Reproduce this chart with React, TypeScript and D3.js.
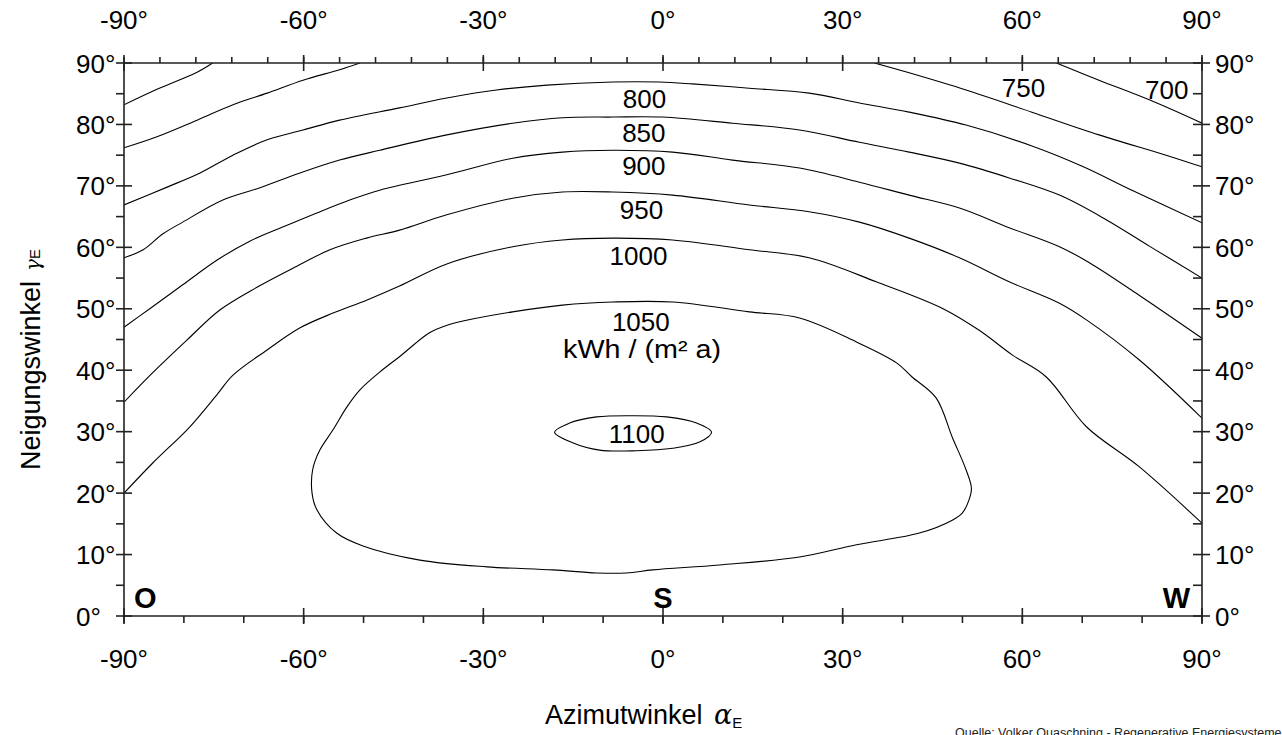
import React from "react";
import * as d3 from "d3";

// ---- data: contour lines of annual irradiation (kWh/(m² a)) as [azimuth°, tilt°] ----
const contour700a: [number, number][] = [[-90, 83.2], [-84.3, 85.8], [-77.8, 88.5], [-75.2, 90]];
const contour700b: [number, number][] = [[65.7, 90], [72.8, 87.2], [81.2, 84.0], [90, 80.2]];
const contour750a: [number, number][] = [[-90, 76.2], [-84.5, 78.0], [-77.8, 80.7], [-71.8, 83.2], [-66.1, 85.1], [-60.1, 87.2], [-54.0, 88.9], [-50.6, 90]];
const contour750b: [number, number][] = [[35.3, 90], [41.1, 88.4], [50.6, 85.6], [61.6, 82.0], [72.8, 78.3], [84.0, 75.0], [90, 73.1]];
const contour800: [number, number][] = [[-90, 66.9], [-82.8, 69.8], [-77.3, 72.1], [-71.8, 75.0], [-66.1, 77.5], [-60.1, 79.1], [-54.0, 80.7], [-44.0, 82.7], [-36.1, 84.3], [-27.8, 85.6], [-19.4, 86.4], [-8.4, 86.9], [-0.6, 86.9], [4.9, 86.6], [14.4, 85.9], [24.4, 85.1], [32.8, 83.5], [41.1, 82.0], [50.6, 79.9], [61.6, 76.5], [70.0, 73.2], [78.3, 69.3], [90, 64.0]];
const contour850: [number, number][] = [[-90, 58.3], [-86.8, 59.6], [-83.5, 62.2], [-80.2, 64.1], [-73.5, 67.7], [-67.3, 69.7], [-60.6, 72.1], [-54.0, 74.2], [-47.3, 75.8], [-36.1, 78.3], [-25.1, 80.2], [-16.8, 81.1], [-8.4, 81.2], [-0.1, 81.2], [11.6, 80.2], [22.8, 79.1], [32.8, 77.1], [41.1, 75.5], [49.5, 73.7], [57.8, 71.3], [66.2, 68.5], [74.0, 64.5], [81.2, 60.2], [90, 55.0]];
const contour900: [number, number][] = [[-90, 47.0], [-85.7, 50.0], [-80.2, 53.9], [-74.5, 57.9], [-69.0, 61.0], [-63.5, 63.3], [-57.8, 65.6], [-52.3, 67.7], [-47.3, 69.3], [-36.1, 71.8], [-25.1, 74.5], [-16.8, 75.5], [-8.4, 75.8], [1.6, 75.5], [11.6, 74.2], [22.8, 72.9], [32.8, 70.6], [41.1, 68.5], [49.5, 66.4], [57.8, 63.2], [66.2, 60.1], [71.2, 57.5], [79.5, 52.2], [90, 45.2]];
const contour950: [number, number][] = [[-90, 34.8], [-85.2, 39.6], [-79.5, 44.9], [-74.0, 49.8], [-67.8, 53.5], [-61.8, 56.6], [-55.6, 59.6], [-49.5, 61.5], [-44.0, 62.8], [-36.1, 65.3], [-25.1, 68.0], [-16.8, 69.0], [-8.4, 69.0], [1.6, 68.5], [14.4, 66.9], [24.4, 65.8], [32.8, 64.1], [41.1, 61.5], [49.5, 58.3], [57.8, 54.4], [66.2, 50.9], [70.7, 48.2], [79.5, 41.7], [90, 32.2]];
const contour1000: [number, number][] = [[-90, 20.0], [-85.2, 24.9], [-79.0, 30.8], [-74.5, 36.0], [-71.8, 39.2], [-66.1, 43.3], [-60.6, 46.9], [-55.1, 49.3], [-49.5, 51.4], [-44.0, 53.7], [-36.1, 57.3], [-25.1, 60.1], [-16.8, 61.2], [-8.4, 61.5], [1.6, 61.2], [14.4, 59.6], [24.4, 58.3], [35.6, 54.4], [46.6, 50.1], [52.8, 46.5], [58.3, 42.5], [64.0, 38.9], [70.7, 30.8], [79.5, 24.3], [90, 15.1]];
const contour1050: [number, number][] = [[-58.6, 20.0], [-58.5, 23.8], [-57.3, 27.0], [-55.1, 30.3], [-52.8, 34.0], [-50.6, 36.8], [-47.3, 39.7], [-44.0, 42.2], [-39.0, 46.1], [-36.4, 47.2], [-33.4, 48.0], [-25.1, 49.5], [-16.8, 50.6], [-8.4, 51.1], [1.6, 51.1], [14.4, 49.5], [22.8, 48.5], [32.3, 44.6], [39.0, 41.2], [41.6, 38.9], [45.6, 35.5], [48.3, 29.1], [50.6, 23.8], [51.5, 20.8], [51.1, 18.9], [50.0, 16.8], [48.3, 15.6], [42.8, 13.5], [32.3, 11.6], [22.8, 9.6], [9.4, 8.3], [-1.7, 7.5], [-6.1, 7.0], [-11.1, 7.0], [-18.4, 7.5], [-29.4, 8.0], [-40.6, 9.1], [-50.1, 11.4], [-54.5, 13.5], [-57.8, 17.3]];
const contour1100: [number, number][] = [[-18.1, 29.9], [-15.6, 31.4], [-11.1, 32.4], [-5.1, 32.6], [0.6, 32.4], [5.6, 31.4], [8.1, 29.9], [6.1, 28.3], [1.6, 27.3], [-4.4, 26.9], [-10.6, 27.0], [-15.1, 28.2]];

const openContours = [contour700a, contour700b, contour750a, contour750b, contour800, contour850, contour900, contour950, contour1000];
const closedContours = [contour1050, contour1100];

// contour value labels: [text, azimuth, tilt(baseline)]
const contourLabels: [string, number, number][] = [
  ["800", -3.1, 82.7],
  ["850", -3.2, 77.1],
  ["900", -3.2, 71.8],
  ["950", -3.6, 64.6],
  ["1000", -4.1, 57.1],
  ["1050", -3.7, 46.4],
  ["1100", -4.4, 28.2],
  ["750", 60.2, 84.5],
  ["700", 84.1, 84.1],
];
const unitLabel: [string, number, number] = ["kWh / (m² a)", -3.5, 42.0];

const xMajorTicks = [-90, -60, -30, 0, 30, 60, 90];
const xMinorBottom = d3.range(-90, 91, 10);
const xMinorTop = d3.range(-90, 91, 6);
const yMajorTicks = d3.range(0, 91, 10);
const yMinorTicks = d3.range(5, 90, 10);
const directionLabels: [string, number][] = [["O", -90], ["S", 0], ["W", 90]];

const W = 1282;
const H = 735;
const FONT = "'Liberation Sans', Arial, Helvetica, sans-serif";

export default function App() {
  const x = d3.scaleLinear().domain([-90, 90]).range([124, 1202]);
  const y = d3.scaleLinear().domain([0, 90]).range([616, 63]);
  const line = d3.line<[number, number]>().x(d => x(d[0])).y(d => y(d[1])).curve(d3.curveCatmullRom.alpha(0.5));
  const loop = d3.line<[number, number]>().x(d => x(d[0])).y(d => y(d[1])).curve(d3.curveCatmullRomClosed.alpha(0.5));
  const axisColor = "#222";
  const x0 = x(-90), x1 = x(90), y0 = y(0), y1 = y(90);

  return (
    <svg width={W} height={H} style={{ position: "absolute", left: 0, top: 0, background: "#fff" }} fontFamily={FONT}>
      <rect x={0} y={0} width={W} height={H} fill="#fff" />
      <defs>
        <clipPath id="plot">
          <rect x={x0} y={y1} width={x1 - x0} height={y0 - y1} />
        </clipPath>
      </defs>
      <g clipPath="url(#plot)" fill="none" stroke="#000" strokeWidth={1.1}>
        {openContours.map((c, i) => <path key={"o" + i} d={line(c) || ""} />)}
        {closedContours.map((c, i) => <path key={"c" + i} d={loop(c) || ""} />)}
      </g>
      {/* frame */}
      <g stroke={axisColor} strokeWidth={1.6} fill="none">
        <line x1={x0} y1={y0} x2={x1} y2={y0} />
        <line x1={x0} y1={y1} x2={x1} y2={y1} />
        <line x1={x0} y1={y1} x2={x0} y2={y0} />
        <line x1={x1} y1={y1} x2={x1} y2={y0} />
        {xMinorBottom.map(t => <line key={"bm" + t} x1={x(t)} x2={x(t)} y1={y0} y2={y0 + 7} />)}
        {xMajorTicks.map(t => <line key={"bM" + t} x1={x(t)} x2={x(t)} y1={y0 - 8} y2={y0 + 8} />)}
        {xMinorTop.map(t => <line key={"tm" + t} x1={x(t)} x2={x(t)} y1={y1} y2={y1 - 6} />)}
        {xMajorTicks.map(t => <line key={"tM" + t} x1={x(t)} x2={x(t)} y1={y1 - 8} y2={y1 + 8} />)}
        {yMinorTicks.map(t => <line key={"lm" + t} x1={x0 - 8} x2={x0} y1={y(t)} y2={y(t)} />)}
        {yMajorTicks.map(t => <line key={"lM" + t} x1={x0 - 8} x2={x0 + 8} y1={y(t)} y2={y(t)} />)}
        {yMinorTicks.map(t => <line key={"rm" + t} x1={x1 - 9} x2={x1} y1={y(t)} y2={y(t)} />)}
        {yMajorTicks.map(t => <line key={"rM" + t} x1={x1 - 9} x2={x1 + 8} y1={y(t)} y2={y(t)} />)}
      </g>
      {/* tick labels */}
      <g fontSize={26} fill="#000">
        {xMajorTicks.map(t => <text key={"bl" + t} x={x(t)} y={668} textAnchor="middle">{t}°</text>)}
        {xMajorTicks.map(t => <text key={"tl" + t} x={x(t)} y={29} textAnchor="middle">{t}°</text>)}
        {yMajorTicks.map(t => <text key={"ll" + t} x={76} y={y(t) + 9.5}>{t}°</text>)}
        {yMajorTicks.map(t => <text key={"rl" + t} x={1215} y={y(t) + 9.5}>{t}°</text>)}
      </g>
      {/* contour labels */}
      <g fontSize={26} fill="#000" textAnchor="middle">
        {contourLabels.map(([s, a, t]) => <text key={s} x={x(a)} y={y(t)}>{s}</text>)}
        <text x={x(unitLabel[1])} y={y(unitLabel[2])} textLength={158} lengthAdjust="spacingAndGlyphs">{unitLabel[0]}</text>
      </g>
      {/* direction letters */}
      <g fontSize={29} fontWeight="bold" fill="#000">
        {directionLabels.map(([s, a]) => (
          <text key={s} x={x(a) + (a === -90 ? 10 : a === 90 ? -12 : 0)} y={y0 - 8}
            textAnchor={a === -90 ? "start" : a === 90 ? "end" : "middle"}>{s}</text>
        ))}
      </g>
      {/* axis titles */}
      <text x={545} y={724} fontSize={27} fill="#000">
        Azimutwinkel{"  "}
        <tspan fontFamily="'DejaVu Serif', 'Liberation Serif', serif" fontStyle="italic" dx={4}>α</tspan>
        <tspan fontSize={15} dy={4}>E</tspan>
      </text>
      <text transform={`translate(40,${470}) rotate(-90)`} fontSize={27} fill="#000">
        Neigungswinkel
        <tspan fontFamily="'DejaVu Serif', 'Liberation Serif', serif" fontStyle="italic" fontSize={20} dx={10}>γ</tspan>
        <tspan fontSize={15} dy={0}>E</tspan>
      </text>
      <text x={955} y={737} fontSize={12.5} fill="#222">Quelle: Volker Quaschning - Regenerative Energiesysteme</text>
    </svg>
  );
}
